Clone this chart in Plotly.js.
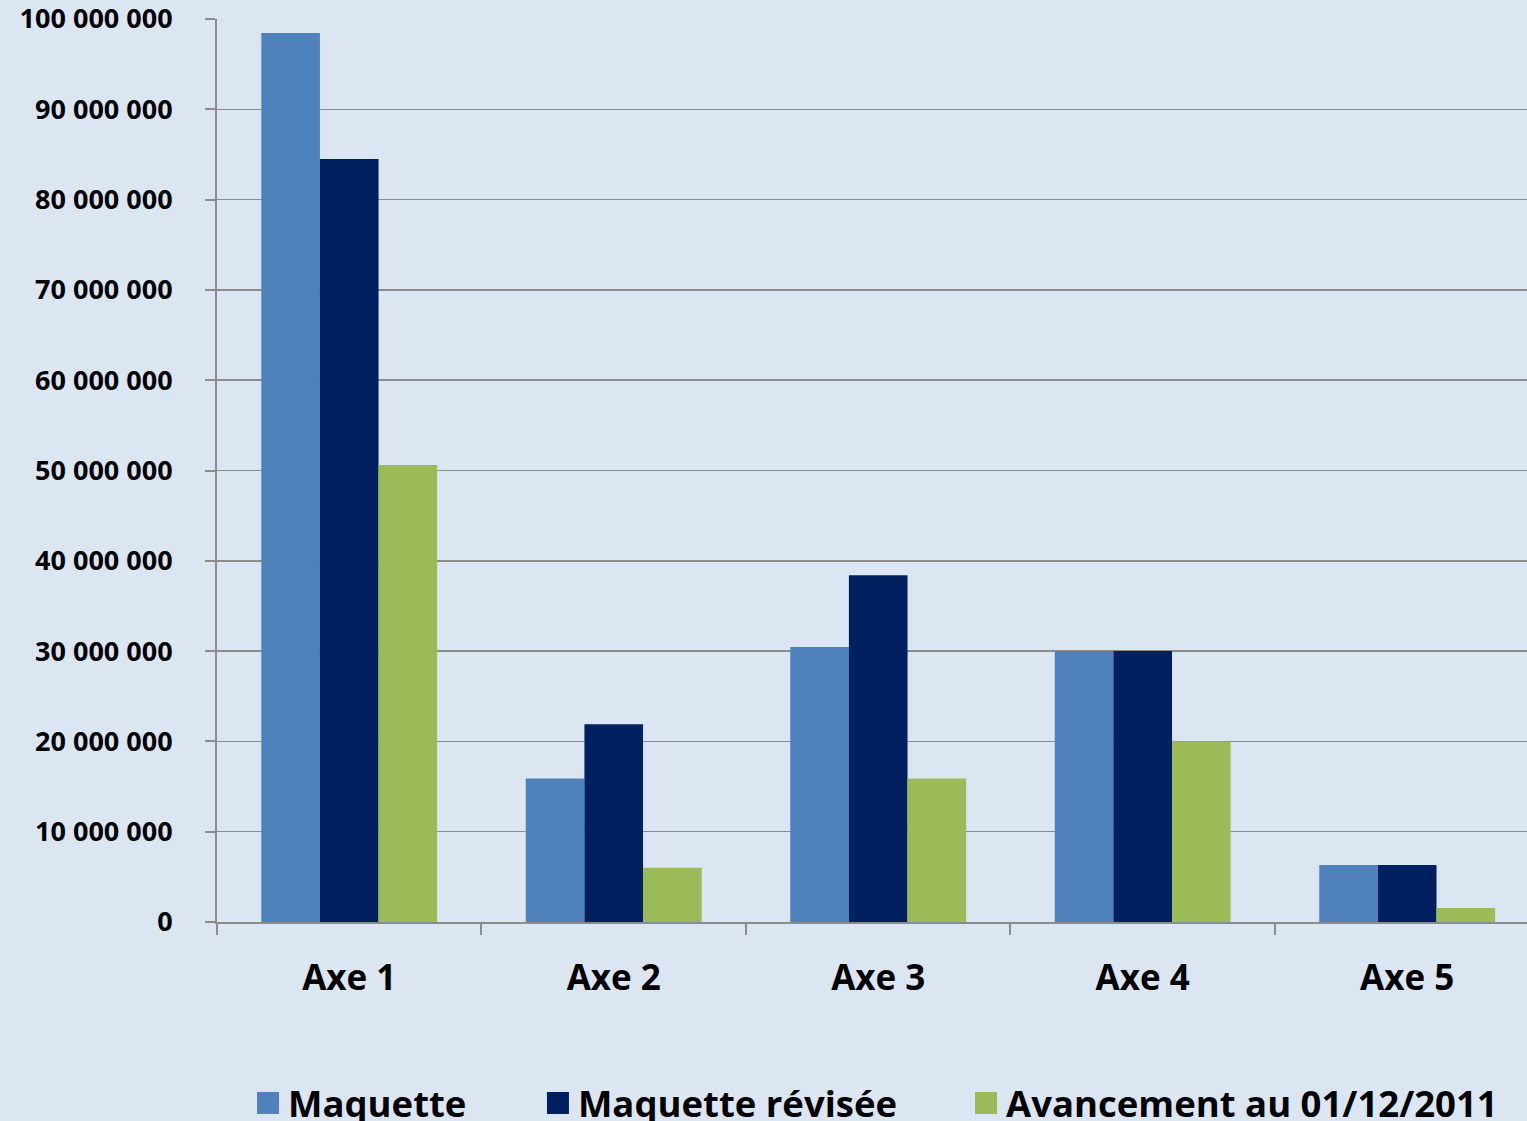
<!DOCTYPE html>
<html>
<head>
<meta charset="utf-8">
<script src="https://cdn.plot.ly/plotly-3.0.1.min.js"></script>
<style>html,body{margin:0;padding:0;background:#dce6f2;}</style>
</head>
<body>
<div id="chart" style="width:1527px;height:1121px;"></div>
<script>
const categories = ["Axe 1", "Axe 2", "Axe 3", "Axe 4", "Axe 5"];
const maquette = [98450000, 15900000, 30450000, 30000000, 6300000];
const maquetteRevisee = [84500000, 21900000, 38400000, 30000000, 6300000];
const avancement = [50600000, 6000000, 15900000, 20000000, 1550000];
const seriesNames = ["Maquette", "Maquette révisée", "Avancement au 01/12/2011"];
const yTicks = [0, 10000000, 20000000, 30000000, 40000000, 50000000, 60000000, 70000000, 80000000, 90000000, 100000000];

const colors = ["#4f81bd", "#002060", "#9bbb59"];
const seriesValues = [maquette, maquetteRevisee, avancement];
const legendIds = ["legend", "legend2", "legend3"];
const legendX = [0.0237, 0.245, 0.5718];
const font = {family: "'Open Sans', sans-serif", color: "#000000", weight: "bold"};

const traces = seriesValues.map((vals, i) => ({
  type: "bar",
  name: seriesNames[i],
  x: categories,
  y: vals,
  legend: legendIds[i],
  marker: {color: colors[i], line: {width: 0}},
  hoverinfo: "x+y+name"
}));

function legendCfg(x) {
  return {
    orientation: "h",
    x: x,
    xanchor: "left",
    y: -0.167,
    yanchor: "top",
    itemwidth: 30,
    borderwidth: 0,
    font: Object.assign({}, font, {size: 36.5}),
    bgcolor: "rgba(0,0,0,0)"
  };
}

const layout = {
  width: 1527,
  height: 1121,
  paper_bgcolor: "#dce6f2",
  plot_bgcolor: "#dce6f2",
  margin: {l: 217, r: 0, t: 19, b: 199, pad: 0, autoexpand: false},
  separators: ", ",
  barmode: "group",
  bargap: 0.335,
  bargroupgap: 0,
  showlegend: true,
  legend: legendCfg(legendX[0]),
  legend2: legendCfg(legendX[1]),
  legend3: legendCfg(legendX[2]),
  xaxis: {
    type: "category",
    range: [-0.5, 4.453],
    tickson: "boundaries",
    ticks: "outside",
    ticklen: 11,
    tickwidth: 2,
    tickcolor: "#8c8c8c",
    showline: true,
    linecolor: "#8c8c8c",
    linewidth: 2,
    showgrid: false,
    zeroline: false,
    tickfont: Object.assign({}, font, {size: 35}),
    ticklabelstandoff: 24
  },
  yaxis: {
    range: [0, 100000000],
    tickvals: yTicks,
    tickformat: ",d",
    ticks: "outside",
    ticklen: 10,
    tickwidth: 2,
    tickcolor: "#8c8c8c",
    showline: true,
    linecolor: "#8c8c8c",
    linewidth: 2,
    showgrid: true,
    gridcolor: "#8c8c8c",
    gridwidth: 1.5,
    zeroline: false,
    ticklabeloverflow: "allow",
    tickfont: Object.assign({}, font, {size: 27}),
    ticklabelstandoff: 27
  }
};

Plotly.newPlot("chart", traces, layout, {staticPlot: true}).then(() => {
  document.querySelectorAll(".legendpoints path").forEach(p => {
    p.setAttribute("d", "M11,11H-11V-11H11Z");
  });
});
</script>
</body>
</html>
